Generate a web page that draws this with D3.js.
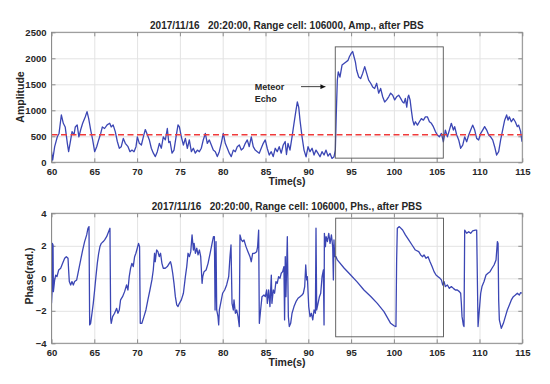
<!DOCTYPE html>
<html>
<head>
<meta charset="utf-8">
<script src="https://cdn.jsdelivr.net/npm/d3@7"></script>
<style>
  html, body { margin: 0; padding: 0; background: #fff; }
  text { font-family: "Liberation Sans", Arial, sans-serif; font-weight: bold; fill: #262626; }
</style>
</head>
<body>
<script>
// ---------------- DATA ----------------
const xTicks = [60, 65, 70, 75, 80, 85, 90, 95, 100, 105, 110, 115];
const ampTicks = [0, 500, 1000, 1500, 2000, 2500];
const phsTicks = [-4, -2, 0, 2, 4];

const ampTitle = "2017/11/16   20:20:00, Range cell: 106000, Amp., after PBS";
const phsTitle = "2017/11/16   20:20:00, Range cell: 106000, Phs., after PBS";
const xLabel = "Time(s)";
const ampLabel = "Amplitude";
const phsLabel = "Phase(rad.)";
const annotationLines = ["Meteor", "Echo"];

const threshold = 530;
const ampBox = [93.15, 105.77, 80, 2220];   // t0, t1, v0, v1
const phsBox = [93.2, 105.8, -3.6, 3.7];

const timeAmp = [60.0,60.14,60.37,60.68,60.88,61.15,61.38,61.6,61.85,62.0,62.24,62.4,62.63,62.78,63.0,63.2,63.4,63.64,63.95,64.15,64.34,64.58,64.81,65.04,65.28,65.51,65.75,65.94,66.2,66.5,66.8,66.98,67.2,67.45,67.69,67.92,68.15,68.39,68.62,68.94,69.17,69.4,69.64,69.87,70.03,70.26,70.5,70.73,70.96,71.2,71.43,71.66,71.9,72.13,72.36,72.6,72.83,73.06,73.3,73.53,73.7,73.85,74.08,74.31,74.55,74.78,74.94,75.17,75.41,75.64,75.87,76.1,76.34,76.57,76.8,77.04,77.27,77.5,77.73,77.97,78.2,78.44,78.67,78.9,79.14,79.37,79.6,79.83,80.07,80.3,80.54,80.77,81.0,81.24,81.47,81.7,81.94,82.17,82.4,82.64,82.87,83.1,83.34,83.57,83.8,84.04,84.27,84.5,84.74,84.97,85.2,85.44,85.67,85.9,86.14,86.37,86.6,86.84,87.07,87.3,87.45,87.63,87.86,88.1,88.33,88.56,88.72,88.88,89.03,89.27,89.5,89.74,89.97,90.2,90.44,90.67,90.9,91.14,91.37,91.6,91.84,92.07,92.3,92.54,92.77,93.0,93.16,93.27,93.39,93.5,93.7,93.94,94.17,94.4,94.64,94.8,95.03,95.18,95.34,95.5,95.65,95.89,96.12,96.35,96.59,96.82,97.05,97.29,97.52,97.75,97.99,98.22,98.45,98.69,98.92,99.15,99.39,99.62,99.86,100.09,100.32,100.56,100.79,101.02,101.18,101.34,101.5,101.65,101.73,101.89,102.04,102.2,102.36,102.51,102.75,102.98,103.21,103.45,103.68,103.91,104.15,104.38,104.61,104.85,105.08,105.31,105.55,105.78,106.01,106.25,106.48,106.71,106.95,107.1,107.34,107.57,107.8,108.04,108.27,108.5,108.74,108.97,109.2,109.44,109.67,109.9,110.14,110.37,110.6,110.84,111.07,111.3,111.54,111.77,112.0,112.24,112.47,112.7,112.94,113.17,113.33,113.48,113.72,113.95,114.18,114.42,114.57,114.81,114.96];
const amp = [204,44,300,492,555,910,750,680,365,204,430,590,530,680,720,490,620,750,877,975,845,620,430,204,300,430,555,680,650,720,750,680,720,590,400,270,300,460,365,300,204,235,204,300,490,365,333,490,630,530,430,270,175,110,204,365,270,490,430,650,380,400,175,235,490,720,680,490,333,460,270,430,204,270,175,235,204,270,430,555,365,430,333,235,204,110,204,365,555,365,270,175,110,235,204,300,333,235,270,365,430,300,490,300,235,204,175,270,365,430,270,140,204,110,270,204,300,175,333,400,150,365,235,490,750,1000,1160,1060,810,490,235,106,300,204,270,140,235,170,106,204,140,235,120,170,75,106,235,940,1580,1740,1640,1870,1900,1930,1960,2030,2100,2130,2030,1930,1770,1640,1610,1710,1840,1710,1580,1520,1450,1420,1520,1330,1420,1260,1160,1200,1260,1330,1290,1200,1260,1290,1230,1160,1140,1230,1060,1260,1290,1200,1000,810,715,780,715,780,840,810,875,875,780,750,685,590,525,490,555,395,620,490,620,750,620,685,525,430,270,330,490,395,525,620,715,620,460,430,555,620,685,620,525,490,430,300,140,204,430,620,810,910,810,875,780,840,780,685,715,590,395];

const timePhs = [60.0,60.06,60.09,60.18,60.22,60.37,60.49,60.64,60.84,61.07,61.3,61.54,61.73,61.93,62.0,62.08,62.24,62.39,62.55,62.7,62.94,63.17,63.41,63.64,63.87,64.11,64.26,64.38,64.46,64.57,64.73,64.88,65.04,65.19,65.35,65.51,65.66,65.82,66.05,66.21,66.44,66.6,66.83,66.91,66.98,67.14,67.37,67.61,67.76,67.92,68.07,68.3,68.54,68.77,68.93,69.08,69.24,69.39,69.55,69.71,69.86,70.02,70.17,70.29,70.37,70.56,70.8,71.03,71.26,71.5,71.73,71.89,72.04,72.12,72.28,72.43,72.59,72.74,72.9,73.06,73.29,73.53,73.76,73.9,74.0,74.16,74.31,74.47,74.63,74.78,74.94,75.17,75.41,75.64,75.8,75.95,76.11,76.27,76.42,76.58,76.66,76.81,76.97,77.12,77.28,77.43,77.59,77.67,77.82,78.06,78.29,78.53,78.76,78.92,79.03,79.11,79.22,79.3,79.45,79.53,79.61,79.76,79.99,80.23,80.46,80.7,80.85,80.97,81.09,81.24,81.32,81.48,81.63,81.79,81.94,82.02,82.18,82.33,82.49,82.72,82.95,83.19,83.34,83.5,83.73,83.97,84.08,84.2,84.28,84.43,84.59,84.82,84.98,85.13,85.21,85.37,85.52,85.68,85.75,85.91,86.06,86.22,86.37,86.53,86.69,86.84,87.0,87.15,87.23,87.31,87.39,87.55,87.67,87.78,87.94,88.1,88.33,88.56,88.8,89.03,89.27,89.42,89.58,89.7,89.81,89.89,90.05,90.2,90.36,90.52,90.67,90.83,90.9,90.98,91.14,91.3,91.45,91.61,91.76,91.84,91.88,92.0,92.08,92.23,92.39,92.54,92.7,92.85,92.93,93.0,93.08,93.24,93.39,94.2,94.95,95.7,96.5,97.3,98.06,98.84,99.62,100.01,100.24,100.32,100.4,100.63,101.02,101.34,101.73,102.12,102.51,102.9,103.13,103.36,103.52,103.76,103.99,104.22,104.46,104.69,104.92,105.16,105.39,105.55,105.7,105.86,106.01,106.25,106.48,106.71,106.95,107.18,107.41,107.65,107.8,107.88,107.96,108.11,108.19,108.27,108.5,108.74,108.97,109.2,109.51,109.67,109.83,109.98,110.14,110.29,110.53,110.76,110.99,111.23,111.46,111.7,111.93,112.09,112.17,112.24,112.32,112.55,112.79,113.02,113.25,113.49,113.72,113.95,114.19,114.42,114.65,114.81,114.96];
const phs = [-1.54,-0.92,2.15,2.05,-0.82,-0.1,0.2,0.1,0.51,0.62,0.92,1.23,1.33,1.23,0.51,-0.2,-0.41,-0.2,-0.41,-0.2,-0.1,0.51,1.13,1.74,2.26,2.67,3.08,3.18,-2.87,-2.77,-2.15,-1.54,-0.72,0.1,0.92,1.54,1.95,2.15,2.26,2.36,2.56,2.77,3.08,-2.46,-2.77,-2.36,-2.15,-1.85,-2.15,-1.95,-1.33,-1.13,-0.82,-0.41,-0.72,0.1,0.62,0.92,0.72,1.33,1.54,1.85,2.15,1.95,-2.77,-2.77,-2.36,-1.95,-1.33,-0.72,-0.1,0.51,1.54,1.02,1.74,1.64,1.33,1.54,0.92,0.62,0.62,0.72,0.92,1.02,0.82,0.31,-0.31,-1.13,-1.64,-1.74,-1.54,-1.33,-0.92,0.1,0.72,1.54,1.33,1.64,2.67,1.74,2.15,1.54,1.85,1.44,1.74,1.33,-0.31,0.1,0.41,0.51,0.92,1.54,2.15,2.56,2.56,-1.95,2.26,-1.95,-2.36,-2.87,-1.95,-1.54,-0.92,-0.72,-0.41,0.1,1.33,2.05,-1.54,-1.95,-1.33,-2.15,-1.95,-2.36,-2.97,2.67,2.36,2.26,2.36,1.95,1.64,1.33,1.02,1.54,1.54,1.64,1.95,2.97,-2.77,-1.95,-1.13,-1.03,-1.13,-0.72,-1.54,-0.72,-1.74,0.2,-1.54,-0.72,-0.92,-0.2,-0.31,0.1,0.0,0.31,0.41,0.72,-2.56,1.33,-1.13,2.56,-2.36,-2.97,-2.77,-2.15,-1.74,-1.44,-1.23,-1.13,-1.03,-0.92,-0.51,0.82,-0.1,0.1,-1.74,-2.36,-2.15,-2.56,-1.95,-2.15,3.08,-1.95,-1.54,-1.13,-0.92,0.1,0.51,-2.87,2.77,1.95,2.56,2.26,2.77,2.15,2.67,1.95,-0.1,2.36,1.33,1.33,1.13,0.62,0.2,-0.22,-0.72,-1.12,-1.54,-2.05,-2.77,-2.92,-2.97,1.13,3.08,3.18,2.97,2.67,2.36,2.05,1.74,1.64,1.44,1.33,1.44,1.23,1.33,1.02,0.72,0.41,0.2,0.1,0.0,-0.1,-0.41,-0.2,-0.51,-0.41,-0.62,-0.51,-0.62,-0.72,-0.72,-0.82,-0.92,-1.54,-2.36,-2.87,-2.97,2.97,2.77,2.87,2.77,2.92,2.97,2.97,-2.97,-1.95,-0.92,-0.51,-0.2,0.2,0.31,0.41,0.62,0.82,1.13,2.26,2.15,-1.33,-2.56,-3.08,-2.77,-2.36,-1.95,-1.64,-1.33,-1.13,-1.03,-0.92,-1.03,-0.88,-0.92];

// ---------------- LAYOUT ----------------
const W = 550, H = 384;
const left = 51.5, right = 522.3;
const lineColor = "#3b46b4";
const boxColor = "#8c8c8c";
const gridColor = "#e3e3e3";
const tickFmt = d3.format("d");

const svg = d3.select("body").append("svg").attr("width", W).attr("height", H);
const defs = svg.append("defs");
defs.append("marker").attr("id", "arrow").attr("viewBox", "0 0 10 10")
  .attr("refX", 10).attr("refY", 5).attr("markerWidth", 7).attr("markerHeight", 5)
  .attr("markerUnits", "userSpaceOnUse").attr("orient", "auto")
  .append("path").attr("d", "M0,0 L10,5 L0,10 z").attr("fill", "#111");

const x = d3.scaleLinear().domain([60, 115]).range([left, right]);

function styleText(s) {
  s.selectAll("text").attr("font-size", 9.5).attr("font-weight", "bold").attr("fill", "#262626")
    .attr("font-family", "Liberation Sans, Arial, sans-serif");
}

function panel(id, top, bottom, yDomain, yTicks, title, ylabel, ylabelX, ylabelY, titleY, tx, ty) {
  const y = d3.scaleLinear().domain(yDomain).range([bottom, top]);
  const g = svg.append("g");
  const h = bottom - top, w = right - left;

  g.append("rect").attr("x", left).attr("y", top).attr("width", w).attr("height", h).attr("fill", "#fff");

  // grid
  g.append("g").attr("transform", `translate(0,${bottom})`)
    .call(d3.axisBottom(x).tickValues(xTicks).tickSize(-h).tickFormat(""))
    .call(s => { s.select(".domain").remove(); s.selectAll("line").attr("stroke", gridColor); });
  g.append("g").attr("transform", `translate(${left},0)`)
    .call(d3.axisLeft(y).tickValues(yTicks).tickSize(-w).tickFormat(""))
    .call(s => { s.select(".domain").remove(); s.selectAll("line").attr("stroke", gridColor); });

  defs.append("clipPath").attr("id", "clip" + id).append("rect")
    .attr("x", left).attr("y", top).attr("width", w).attr("height", h);

  // axes with inward ticks on all four sides
  g.append("g").attr("transform", `translate(0,${bottom})`)
    .call(d3.axisBottom(x).tickValues(xTicks).tickFormat(tickFmt).tickSizeInner(-4).tickSizeOuter(0).tickPadding(5.5))
    .call(s => { s.select(".domain").remove(); s.selectAll("line").attr("stroke", boxColor); styleText(s); });
  g.append("g").attr("transform", `translate(0,${top})`)
    .call(d3.axisTop(x).tickValues(xTicks).tickSizeInner(-4).tickSizeOuter(0).tickFormat(""))
    .call(s => { s.select(".domain").remove(); s.selectAll("line").attr("stroke", boxColor); });
  g.append("g").attr("transform", `translate(${left},0)`)
    .call(d3.axisLeft(y).tickValues(yTicks).tickFormat(tickFmt).tickSizeInner(-4).tickSizeOuter(0).tickPadding(5))
    .call(s => { s.select(".domain").remove(); s.selectAll("line").attr("stroke", boxColor); styleText(s); });
  g.append("g").attr("transform", `translate(${right},0)`)
    .call(d3.axisRight(y).tickValues(yTicks).tickSizeInner(-4).tickSizeOuter(0).tickFormat(""))
    .call(s => { s.select(".domain").remove(); s.selectAll("line").attr("stroke", boxColor); });

  g.append("text").attr("x", (left + right) / 2).attr("y", titleY).attr("text-anchor", "middle")
    .attr("font-size", 10).style("white-space", "pre").text(title);
  g.append("text").attr("x", tx).attr("y", ty).attr("text-anchor", "middle")
    .attr("font-size", 10.5).text(xLabel);
  g.append("text").attr("transform", `translate(${ylabelX},${ylabelY}) rotate(-90)`)
    .attr("text-anchor", "middle").attr("font-size", 10.5).text(ylabel);

  return { g, y };
}

// ----- Amplitude panel -----
const P1 = panel("a", 32.3, 162.3, [0, 2500], ampTicks, ampTitle, ampLabel, 23.5, 97, 29, 287, 185);
const lineA = d3.line().x((d, i) => x(timeAmp[i])).y(d => P1.y(d));
P1.g.append("path").datum(amp).attr("clip-path", "url(#clipa)")
  .attr("d", lineA).attr("fill", "none").attr("stroke", lineColor).attr("stroke-width", 1.3)
  .attr("stroke-linejoin", "round");
P1.g.append("line").attr("x1", x(60)).attr("x2", x(115)).attr("y1", P1.y(threshold)).attr("y2", P1.y(threshold))
  .attr("stroke", "#f03a3a").attr("stroke-width", 1.6).attr("stroke-dasharray", "6,3.5");
P1.g.append("rect").attr("x", x(ampBox[0])).attr("y", P1.y(ampBox[3]))
  .attr("width", x(ampBox[1]) - x(ampBox[0])).attr("height", P1.y(ampBox[2]) - P1.y(ampBox[3]))
  .attr("fill", "none").attr("stroke", "#555").attr("stroke-width", 0.9);
P1.g.append("text").attr("x", x(83.75)).attr("y", P1.y(1400)).attr("font-size", 9).text(annotationLines[0]);
P1.g.append("text").attr("x", x(83.75)).attr("y", P1.y(1165)).attr("font-size", 9).text(annotationLines[1]);
P1.g.append("line").attr("x1", x(89.15)).attr("x2", x(92.0)).attr("y1", P1.y(1455)).attr("y2", P1.y(1455))
  .attr("stroke", "#111").attr("stroke-width", 0.8).attr("marker-end", "url(#arrow)");
P1.g.append("rect").attr("x", left).attr("y", 32.3).attr("width", right - left).attr("height", 130)
  .attr("fill", "none").attr("stroke", boxColor).attr("stroke-width", 1);

// ----- Phase panel -----
const P2 = panel("p", 213.3, 343.3, [-4, 4], phsTicks, phsTitle, phsLabel, 33, 276, 210, 287, 366);
const lineP = d3.line().x((d, i) => x(timePhs[i])).y(d => P2.y(d));
P2.g.append("path").datum(phs).attr("clip-path", "url(#clipp)")
  .attr("d", lineP).attr("fill", "none").attr("stroke", lineColor).attr("stroke-width", 1.3)
  .attr("stroke-linejoin", "round");
P2.g.append("rect").attr("x", x(phsBox[0])).attr("y", P2.y(phsBox[3]))
  .attr("width", x(phsBox[1]) - x(phsBox[0])).attr("height", P2.y(phsBox[2]) - P2.y(phsBox[3]))
  .attr("fill", "none").attr("stroke", "#555").attr("stroke-width", 0.9);
P2.g.append("rect").attr("x", left).attr("y", 213.3).attr("width", right - left).attr("height", 130)
  .attr("fill", "none").attr("stroke", boxColor).attr("stroke-width", 1);
</script>
</body>
</html>
